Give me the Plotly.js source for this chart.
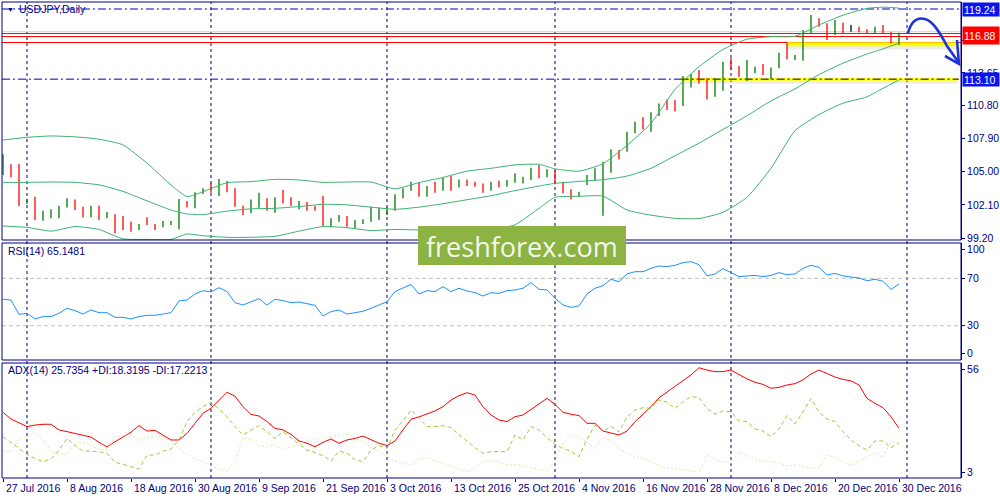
<!DOCTYPE html>
<html>
<head>
<meta charset="utf-8">
<script src="https://cdn.plot.ly/plotly-3.0.1.min.js"></script>
<style>
  html, body { margin: 0; padding: 0; background: #fff; }
  #chart { width: 1000px; height: 500px; }
</style>
</head>
<body>
<div id="chart"></div>
<script>
// USDJPY daily 27 Jul - 30 Dec 2016: bars + Bollinger(20), RSI(14), ADX(14)

const dates = [
  '2016-07-27','2016-07-28','2016-07-29',
  '2016-08-01','2016-08-02','2016-08-03','2016-08-04','2016-08-05','2016-08-08','2016-08-09','2016-08-10','2016-08-11','2016-08-12',
  '2016-08-15','2016-08-16','2016-08-17','2016-08-18','2016-08-19','2016-08-22','2016-08-23','2016-08-24','2016-08-25','2016-08-26',
  '2016-08-29','2016-08-30','2016-08-31',
  '2016-09-01','2016-09-02','2016-09-05','2016-09-06','2016-09-07','2016-09-08','2016-09-09','2016-09-12','2016-09-13','2016-09-14',
  '2016-09-15','2016-09-16','2016-09-19','2016-09-20','2016-09-21','2016-09-22','2016-09-23','2016-09-26','2016-09-27','2016-09-28',
  '2016-09-29','2016-09-30',
  '2016-10-03','2016-10-04','2016-10-05','2016-10-06','2016-10-07','2016-10-10','2016-10-11','2016-10-12','2016-10-13','2016-10-14',
  '2016-10-17','2016-10-18','2016-10-19','2016-10-20','2016-10-21','2016-10-24','2016-10-25','2016-10-26','2016-10-27','2016-10-28',
  '2016-10-31',
  '2016-11-01','2016-11-02','2016-11-03','2016-11-04','2016-11-07','2016-11-08','2016-11-09','2016-11-10','2016-11-11','2016-11-14',
  '2016-11-15','2016-11-16','2016-11-17','2016-11-18','2016-11-21','2016-11-22','2016-11-23','2016-11-24','2016-11-25','2016-11-28',
  '2016-11-29','2016-11-30',
  '2016-12-01','2016-12-02','2016-12-05','2016-12-06','2016-12-07','2016-12-08','2016-12-09','2016-12-12','2016-12-13','2016-12-14',
  '2016-12-15','2016-12-16','2016-12-19','2016-12-20','2016-12-21','2016-12-22','2016-12-23','2016-12-26','2016-12-27','2016-12-28',
  '2016-12-29','2016-12-30'
];

const open = [
  105.10,105.55,105.35,102.25,102.75,100.92,101.20,101.21,101.94,102.50,
  101.80,101.12,101.94,101.21,101.21,100.25,100.19,100.04,100.77,100.34,
  100.30,100.55,100.60,102.30,102.05,103.11,103.40,103.25,104.13,103.40,
  101.94,101.73,102.45,102.67,101.80,102.61,102.44,102.17,102.23,101.94,
  101.80,100.30,100.75,101.00,100.30,100.50,100.70,100.90,101.30,101.70,
  102.90,103.45,103.95,103.00,103.60,103.50,104.20,103.65,104.20,103.90,
  103.85,103.45,103.95,103.80,104.15,104.10,104.35,105.25,104.70,104.85,
  104.10,103.25,102.95,103.90,104.45,105.10,105.50,106.80,106.80,108.40,
  109.15,108.95,110.10,110.90,110.90,110.90,112.50,113.30,113.10,112.10,
  112.40,114.45,114.05,113.50,114.00,114.05,113.75,114.10,115.30,115.10,
  115.15,117.15,118.20,117.90,117.05,117.90,117.60,117.55,117.40,117.25,
  117.50,117.20,116.50
];
const high = [
  106.52,105.65,105.68,102.61,102.82,101.59,101.71,102.03,102.67,102.58,
  101.94,102.03,102.03,101.47,101.27,101.12,100.63,100.43,101.01,100.43,
  100.69,100.69,102.61,102.44,103.20,103.55,104.04,104.36,104.19,103.55,
  102.03,102.58,103.17,102.67,102.76,103.40,102.76,102.44,102.35,102.03,
  102.87,100.92,101.21,101.12,100.77,100.83,101.94,101.88,101.94,103.02,
  103.55,104.13,104.04,103.75,104.13,104.48,104.63,104.33,104.33,104.13,
  103.98,104.13,104.22,104.28,104.86,104.57,105.35,105.59,105.21,105.15,
  104.13,103.46,103.25,104.71,105.30,105.88,106.96,106.90,108.50,109.38,
  109.76,110.20,110.98,111.33,111.28,113.38,113.55,113.90,113.17,113.17,
  114.63,114.92,114.25,114.78,114.19,114.43,114.11,115.42,116.24,115.21,
  117.40,118.72,118.42,117.99,118.28,118.04,117.84,117.69,117.46,117.69,
  117.84,117.26,117.17
];
const low = [
  104.71,104.51,102.00,102.17,100.77,100.72,100.92,100.92,101.88,101.65,
  101.01,101.01,100.77,100.92,99.61,99.90,99.75,99.90,100.34,99.90,
  100.13,100.34,99.96,101.88,101.80,103.05,103.17,102.87,103.20,101.94,
  101.21,101.36,101.85,101.59,101.42,102.23,102.00,101.71,101.59,101.59,
  100.25,100.13,100.63,100.19,100.04,100.43,100.63,100.77,101.21,101.59,
  102.67,103.34,102.82,102.82,103.17,103.34,103.34,103.63,103.75,103.69,
  103.17,103.34,103.63,103.69,104.04,103.98,104.28,104.42,104.51,103.90,
  103.11,102.58,102.82,103.84,104.28,101.15,104.92,106.08,106.75,108.36,
  108.71,108.50,109.88,110.40,110.26,110.75,112.38,112.73,111.33,111.57,
  112.09,113.90,113.32,112.94,113.61,113.46,113.08,114.05,114.84,114.78,
  114.72,117.11,117.69,116.53,116.97,117.11,117.26,117.20,117.11,117.11,
  117.11,116.24,116.09
];
const close = [
  105.45,105.40,102.05,102.40,100.90,101.20,101.25,101.80,102.55,101.80,
  101.12,101.94,101.27,101.30,100.25,100.19,99.90,100.25,100.43,100.25,
  100.55,100.58,102.38,102.05,103.05,103.45,103.30,104.10,103.40,102.03,
  101.73,102.45,103.02,101.80,102.61,102.44,102.17,102.23,101.80,101.73,
  100.28,100.75,101.05,100.30,100.45,100.70,101.70,101.35,101.70,102.90,
  103.45,103.95,102.96,103.60,103.45,104.20,103.65,104.20,103.90,103.85,
  103.45,103.95,103.80,104.15,104.30,104.30,105.20,104.70,104.85,104.20,
  103.25,103.00,103.10,104.50,105.10,105.50,106.80,106.60,108.35,109.10,
  108.95,110.15,110.85,110.75,110.80,112.45,113.25,113.20,112.05,112.45,
  114.45,114.05,113.50,114.00,114.05,113.75,114.00,115.25,115.10,115.15,
  117.10,118.20,117.95,117.00,117.90,117.60,117.60,117.30,117.25,117.45,
  117.20,116.50,116.95
];

// Bollinger bands at these bars
const bbDates = [
  '2016-07-27','2016-08-01','2016-08-04','2016-08-09','2016-08-12','2016-08-17','2016-08-22','2016-08-25',
  '2016-08-29','2016-08-31','2016-09-05','2016-09-08','2016-09-13','2016-09-16','2016-09-21','2016-09-26',
  '2016-09-29','2016-10-04','2016-10-07','2016-10-12','2016-10-17','2016-10-20','2016-10-25','2016-10-28',
  '2016-11-01','2016-11-04','2016-11-09','2016-11-14','2016-11-17','2016-11-22','2016-11-25','2016-11-30',
  '2016-12-05','2016-12-08','2016-12-13','2016-12-16','2016-12-21','2016-12-26','2016-12-28','2016-12-30'
];
const bbUpper = [
  107.77,108.01,108.13,108.05,107.85,107.35,105.75,103.84,102.82,103.25,104.04,104.13,104.33,104.28,104.07,104.10,
  104.10,103.50,104.05,104.50,105.05,105.30,105.60,105.65,105.25,105.05,105.70,107.30,109.23,112.20,114.20,115.70,
  116.60,116.82,116.85,117.84,118.70,119.30,119.40,119.32
];
const bbMiddle = [
  104.07,104.07,104.10,104.07,103.85,103.28,102.45,101.65,101.30,101.25,101.55,101.75,101.80,101.95,102.15,102.10,
  101.90,101.71,101.90,102.20,102.55,102.90,103.35,103.75,103.98,104.15,104.30,104.62,105.30,106.40,107.50,108.70,
  109.90,111.20,112.25,113.50,114.50,115.30,115.75,116.25
];
const bbLower = [
  100.25,100.13,99.80,100.20,99.95,99.12,99.08,99.08,99.55,99.40,99.26,99.26,99.35,99.80,100.20,100.10,
  99.85,99.95,99.90,99.85,99.85,99.95,100.35,101.80,102.76,102.85,102.87,101.65,101.20,100.92,100.90,101.45,
  102.76,105.30,108.60,110.00,111.00,111.55,112.30,113.03
];

const rsi = [
  52.3,51.7,39.6,40.5,35.7,37.7,37.7,40.5,44.7,42.7,
  39.9,43.3,41.0,41.0,37.1,37.1,35.7,37.7,38.8,38.8,
  39.9,41.0,50.9,51.7,56.8,59.6,58.5,62.1,58.8,49.5,
  47.5,50.3,52.9,47.5,52.3,51.2,49.5,50.0,48.9,47.2,
  38.2,41.9,43.3,39.9,41.0,42.2,44.7,47.5,50.3,58.8,
  61.6,64.9,56.8,59.6,58.8,63.0,58.8,61.6,59.3,57.9,
  55.1,57.9,57.3,59.6,60.2,61.6,66.4,60.7,60.2,53.1,
  47.5,45.5,46.7,56.8,61.6,63.8,69.2,67.2,73.7,75.6,
  75.6,78.5,80.4,79.9,81.0,83.2,84.1,81.5,72.0,73.7,
  78.2,74.8,71.4,72.0,72.5,71.4,72.5,74.8,73.1,73.7,
  78.4,81.0,79.3,72.8,74.2,72.0,71.4,70.3,68.0,69.2,
  67.5,60.7,65.15
];

const adx = [
  34.0,30.5,28.6,26.6,27.4,27.8,27.8,24.9,24.0,23.0,
  22.1,21.2,18.5,16.2,18.8,21.4,23.7,27.1,24.3,24.7,
  22.3,19.7,19.7,23.1,28.3,33.5,36.1,40.3,44.3,42.3,
  36.9,32.9,32.1,29.2,25.7,24.9,22.6,19.2,18.0,16.2,
  18.5,20.2,18.0,19.7,20.5,21.7,19.7,18.0,16.8,19.2,
  24.9,30.4,31.6,33.0,34.7,36.9,40.3,42.6,44.1,42.9,
  36.9,32.6,30.0,29.2,31.7,32.6,35.5,38.6,41.2,38.1,
  34.0,33.0,32.3,28.3,28.3,24.3,23.1,22.3,24.3,29.2,
  33.0,36.9,41.5,44.5,47.2,50.2,53.3,57.0,55.8,55.0,
  55.0,55.8,53.6,51.2,49.5,48.4,46.4,46.9,48.1,48.8,
  50.7,53.8,55.8,53.8,52.2,51.0,50.2,48.1,41.2,38.6,
  36.4,31.7,25.74
];
const plusDI = [
  21.4,18.5,15.4,12.3,10.2,8.5,9.9,14.5,20.5,16.8,
  14.0,13.7,13.7,12.8,8.2,7.1,5.9,4.7,11.9,11.9,
  14.0,15.0,19.7,29.2,34.0,36.9,39.1,35.7,31.7,26.6,
  22.3,24.9,27.1,24.0,20.5,24.0,20.9,17.5,14.5,13.3,
  11.6,8.8,14.0,12.8,9.4,8.5,14.5,16.8,15.4,24.9,
  29.5,35.2,30.9,26.6,26.6,27.1,26.1,22.3,19.2,15.7,
  12.8,13.7,13.7,13.7,22.3,19.7,26.6,24.9,20.9,17.5,
  15.4,13.7,11.1,20.2,27.4,24.3,26.6,24.0,31.7,35.2,
  36.4,36.0,40.4,39.2,36.0,39.5,42.1,41.6,36.0,33.0,
  34.7,34.3,29.5,29.2,25.4,24.3,21.4,25.4,32.3,28.0,
  34.3,41.2,34.0,30.5,29.2,24.0,19.7,16.8,14.5,19.2,
  19.2,15.7,18.32
];
const minusDI = [
  13.7,13.7,20.5,21.4,23.7,19.7,14.0,12.3,12.3,18.0,
  18.8,16.8,15.0,14.5,21.4,21.9,22.3,19.2,20.9,21.9,
  21.4,18.8,15.0,12.3,9.9,8.2,6.4,4.7,3.7,8.5,
  20.5,20.2,16.8,16.2,17.1,14.5,16.2,18.0,19.2,20.2,
  20.5,21.4,21.9,22.6,20.9,18.8,15.9,13.3,11.1,8.8,
  7.6,6.8,9.9,10.6,8.8,7.6,6.4,4.7,3.3,5.4,
  8.8,8.8,8.2,6.8,7.1,6.3,5.4,4.7,3.7,8.5,
  18.0,22.6,20.9,18.5,15.4,21.4,19.2,15.0,12.8,11.1,
  10.2,8.5,6.3,5.2,5.1,4.2,3.8,3.0,11.9,9.9,
  8.5,7.6,13.3,11.9,9.9,8.8,8.8,7.6,6.3,6.8,
  5.9,5.1,5.1,11.9,10.6,8.2,6.8,8.5,11.1,13.1,
  10.6,19.2,17.22
];

const xTickDates = [
  '2016-07-27','2016-08-08','2016-08-18','2016-08-30','2016-09-09','2016-09-21','2016-10-03','2016-10-13',
  '2016-10-25','2016-11-04','2016-11-16','2016-11-28','2016-12-08','2016-12-20','2016-12-30'
];
const xTickLabels = [
  '27 Jul 2016','8 Aug 2016','18 Aug 2016','30 Aug 2016','9 Sep 2016','21 Sep 2016','3 Oct 2016','13 Oct 2016',
  '25 Oct 2016','4 Nov 2016','16 Nov 2016','28 Nov 2016','8 Dec 2016','20 Dec 2016','30 Dec 2016'
];
const monthStarts = ['2016-08-01','2016-09-01','2016-10-03','2016-11-01','2016-12-01','2017-01-02'];
const priceTicks = [99.20, 102.10, 105.00, 107.90, 110.80, 113.65, 116.50];

// drawn objects on the price pane
const dashDotLevels = [119.24, 113.10];
const redLevels = [117.10, 116.83, 116.31];
const bidLevel = 117.27;
const zoneLevel = 116.15;
const zoneStart = '2016-12-12';
const supportLevel = 113.10;
const supportStart = '2016-11-22 17:00';
const priceLabels = [
  { value: 119.24, text: '119.24', color: '#0a14f0' },
  { value: 116.88, text: '116.88', color: '#ff0000' },
  { value: 113.10, text: '113.10', color: '#0a14f0' }
];

(function () {

  const C = {
    navy: '#000080',
    up: '#007a00',
    down: '#ff0000',
    band: '#3cb371',
    rsi: '#1e90ff',
    adx: '#ff0000',
    pdi: '#9acd32',
    mdi: '#f5deb3',
    level: '#c0c0c0',
    yellow: '#ffff00',
    font: 'Liberation Sans, Arial, sans-serif'
  };

  // pane domains (paper fractions, page is 1000 x 500)
  const D = {
    x: [0.002, 0.961],
    main: [0.52, 0.996],
    rsi: [0.28, 0.514],
    adx: [0.044, 0.274]
  };
  const xRange = ['2016-07-26 21:00', '2017-01-10 18:00'];
  const xEnd = '2017-01-10 09:00';

  const idx = dates.map((d, i) => i);
  const barIdx = idx.filter(i => open[i] !== close[i]);
  const dojiIdx = idx.filter(i => open[i] === close[i]);
  const pick = (arr, ids) => ids.map(i => arr[i]);

  const band = (y) => ({
    type: 'scatter', mode: 'lines', x: bbDates, y: y, yaxis: 'y',
    line: { color: C.band, width: 1, shape: 'spline', smoothing: 0.5 }, hoverinfo: 'skip'
  });

  const traces = [
    band(bbUpper), band(bbMiddle), band(bbLower),
    {
      type: 'ohlc', x: pick(dates, barIdx),
      open: pick(open, barIdx), high: pick(high, barIdx), low: pick(low, barIdx), close: pick(close, barIdx),
      increasing: { line: { color: C.up, width: 1.3 } },
      decreasing: { line: { color: C.down, width: 1.3 } },
      tickwidth: 0.35, yaxis: 'y'
    },
    {
      type: 'ohlc', x: pick(dates, dojiIdx),
      open: pick(open, dojiIdx), high: pick(high, dojiIdx), low: pick(low, dojiIdx), close: pick(close, dojiIdx),
      increasing: { line: { color: '#000000', width: 1.3 } },
      decreasing: { line: { color: '#000000', width: 1.3 } },
      tickwidth: 0.35, yaxis: 'y'
    },
    { type: 'scatter', mode: 'lines', x: dates, y: rsi, yaxis: 'y2', line: { color: C.rsi, width: 1 } },
    { type: 'scatter', mode: 'lines', x: dates, y: adx, yaxis: 'y3', line: { color: C.adx, width: 1 } },
    { type: 'scatter', mode: 'lines', x: dates, y: plusDI, yaxis: 'y3', line: { color: C.pdi, width: 1, dash: '4px,3px' } },
    { type: 'scatter', mode: 'lines', x: dates, y: minusDI, yaxis: 'y3', line: { color: C.mdi, width: 1, dash: '2px,2px' } }
  ];

  const shapes = [];

  monthStarts.forEach(d => shapes.push({
    type: 'line', xref: 'x', yref: 'paper', x0: d, x1: d, y0: D.adx[0], y1: D.main[1],
    line: { color: C.navy, width: 1, dash: '3px,3px' }, layer: 'below'
  }));

  [70, 30].forEach(v => shapes.push({
    type: 'line', xref: 'x domain', yref: 'y2', x0: 0, x1: 1, y0: v, y1: v,
    line: { color: C.level, width: 1, dash: '4px,3px' }, layer: 'below'
  }));

  shapes.push({
    type: 'line', xref: 'x domain', yref: 'y', x0: 0, x1: 1, y0: bidLevel, y1: bidLevel,
    line: { color: '#dadada', width: 1 }, layer: 'below'
  });
  dashDotLevels.forEach(v => shapes.push({
    type: 'line', xref: 'x domain', yref: 'y', x0: 0, x1: 1, y0: v, y1: v,
    line: { color: '#0000c8', width: 1, dash: '8px,3px,2px,3px' }, layer: 'below'
  }));

  // yellow zones with their soft shadow
  shapes.push({
    type: 'rect', xref: 'x', yref: 'y', x0: zoneStart, x1: xEnd, y0: zoneLevel - 0.45, y1: zoneLevel - 0.15,
    fillcolor: 'rgba(0,0,0,0.08)', line: { width: 0 }, layer: 'below'
  });
  shapes.push({
    type: 'line', xref: 'x', yref: 'y', x0: zoneStart, x1: xEnd, y0: zoneLevel, y1: zoneLevel,
    line: { color: C.yellow, width: 4 }, layer: 'below'
  });
  shapes.push({
    type: 'rect', xref: 'x', yref: 'y', x0: supportStart, x1: xEnd, y0: supportLevel - 0.4, y1: supportLevel - 0.13,
    fillcolor: 'rgba(0,0,0,0.07)', line: { width: 0 }, layer: 'below'
  });
  shapes.push({
    type: 'line', xref: 'x', yref: 'y', x0: supportStart, x1: xEnd, y0: supportLevel, y1: supportLevel,
    line: { color: C.yellow, width: 3 }, layer: 'below'
  });
  shapes.push({
    type: 'line', xref: 'x', yref: 'y', x0: supportStart, x1: xEnd, y0: supportLevel, y1: supportLevel,
    line: { color: '#000000', width: 1, dash: '8px,3px,2px,3px' }, layer: 'below'
  });

  redLevels.forEach(v => shapes.push({
    type: 'line', xref: 'x domain', yref: 'y', x0: 0, x1: 1, y0: v, y1: v,
    line: { color: '#ff0000', width: 1 }, layer: 'below'
  }));

  // pane frames
  ['y', 'y2', 'y3'].forEach(a => shapes.push({
    type: 'rect', xref: 'x domain', yref: a + ' domain', x0: 0, x1: 1, y0: 0, y1: 1,
    line: { color: C.navy, width: 1 }, layer: 'above'
  }));

  // hand drawn arrow (paper coords)
  const px = (x, y) => (x / 1000).toFixed(4) + ',' + (1 - y / 500).toFixed(4);
  shapes.push({
    type: 'path', xref: 'paper', yref: 'paper', layer: 'above',
    path: 'M ' + px(908, 33) + ' C ' + px(911, 22) + ' ' + px(917, 17) + ' ' + px(925, 19) +
          ' C ' + px(933, 21) + ' ' + px(940, 33) + ' ' + px(947, 46) + ' L ' + px(959, 63),
    line: { color: '#1c34d8', width: 2.6 }
  });
  shapes.push({
    type: 'path', xref: 'paper', yref: 'paper', layer: 'above',
    path: 'M ' + px(945, 56) + ' L ' + px(959, 64) + ' L ' + px(957, 40),
    line: { color: '#1c34d8', width: 2.6 }
  });

  // watermark box
  shapes.push({
    type: 'rect', xref: 'paper', yref: 'paper', x0: 0.418, x1: 0.626, y0: 0.47, y1: 0.548,
    fillcolor: '#8db443', line: { width: 0 }, layer: 'above'
  });

  const annotations = [];

  xTickDates.forEach((d, i) => annotations.push({
    xref: 'x', yref: 'paper', x: d, y: 0.024, text: xTickLabels[i],
    xanchor: 'left', yanchor: 'middle', xshift: 1, showarrow: false,
    font: { family: C.font, size: 10.5, color: C.navy }
  }));

  const paneLabel = (x, y, text, size) => ({
    xref: 'paper', yref: 'paper', x: x, y: y, text: text, xanchor: 'left', yanchor: 'middle',
    showarrow: false, font: { family: C.font, size: size || 10.5, color: C.navy }
  });
  annotations.push(paneLabel(0.005, 0.982, '▼', 7));
  annotations.push(paneLabel(0.017, 0.982, 'USDJPY,Daily'));
  annotations.push(paneLabel(0.006, 0.498, 'RSI(14) 65.1481'));
  annotations.push(paneLabel(0.006, 0.26, 'ADX(14) 25.7354 +DI:18.3195 -DI:17.2213'));

  priceLabels.forEach(p => annotations.push({
    xref: 'paper', yref: 'y', x: 0.962, y: p.value, text: p.text,
    xanchor: 'left', yanchor: 'middle', showarrow: false, align: 'left',
    width: 34, height: p.color === '#ff0000' ? 15 : 11, borderpad: 1,
    bgcolor: p.color, font: { family: C.font, size: 10.5, color: '#ffffff' }
  }));

  annotations.push({
    xref: 'paper', yref: 'paper', x: 0.522, y: 0.508, text: 'freshforex.com',
    xanchor: 'center', yanchor: 'middle', showarrow: false,
    font: { family: 'Open Sans, sans-serif', size: 27, color: 'rgba(255,255,255,0.93)' }
  });

  const yBase = {
    side: 'right', anchor: 'x', showgrid: false, zeroline: false,
    showline: true, linecolor: C.navy, linewidth: 1,
    ticks: 'outside', ticklen: 3, tickcolor: C.navy,
    tickfont: { family: C.font, size: 10.5, color: C.navy }, fixedrange: true
  };

  const layout = {
    width: 1000,
    height: 500,
    margin: { l: 0, r: 0, t: 0, b: 0 },
    paper_bgcolor: '#ffffff',
    plot_bgcolor: '#ffffff',
    showlegend: false,
    hovermode: false,
    font: { family: C.font, size: 10.5, color: C.navy },
    xaxis: {
      type: 'date', domain: D.x, range: xRange, anchor: 'y3',
      rangebreaks: [{ bounds: ['sat', 'mon'] }],
      rangeslider: { visible: false },
      showgrid: false, zeroline: false, showline: false,
      tickmode: 'array', tickvals: xTickDates, showticklabels: false,
      ticks: 'outside', ticklen: 3, tickcolor: C.navy
    },
    yaxis: Object.assign({}, yBase, {
      domain: D.main, range: [99.025, 119.853],
      tickmode: 'array', tickvals: priceTicks, tickformat: '.2f'
    }),
    yaxis2: Object.assign({}, yBase, {
      domain: D.rsi, range: [1.1, 99.8],
      tickmode: 'array', tickvals: [94.5, 70, 30, 6.8], ticktext: ['100', '70', '30', '0']
    }),
    yaxis3: Object.assign({}, yBase, {
      domain: D.adx, range: [0.06, 59.46],
      tickmode: 'array', tickvals: [56, 3], ticktext: ['56', '3']
    }),
    shapes: shapes,
    annotations: annotations
  };

  Plotly.newPlot('chart', traces, layout, { staticPlot: true, displayModeBar: false });

})();
</script>
</body>
</html>
